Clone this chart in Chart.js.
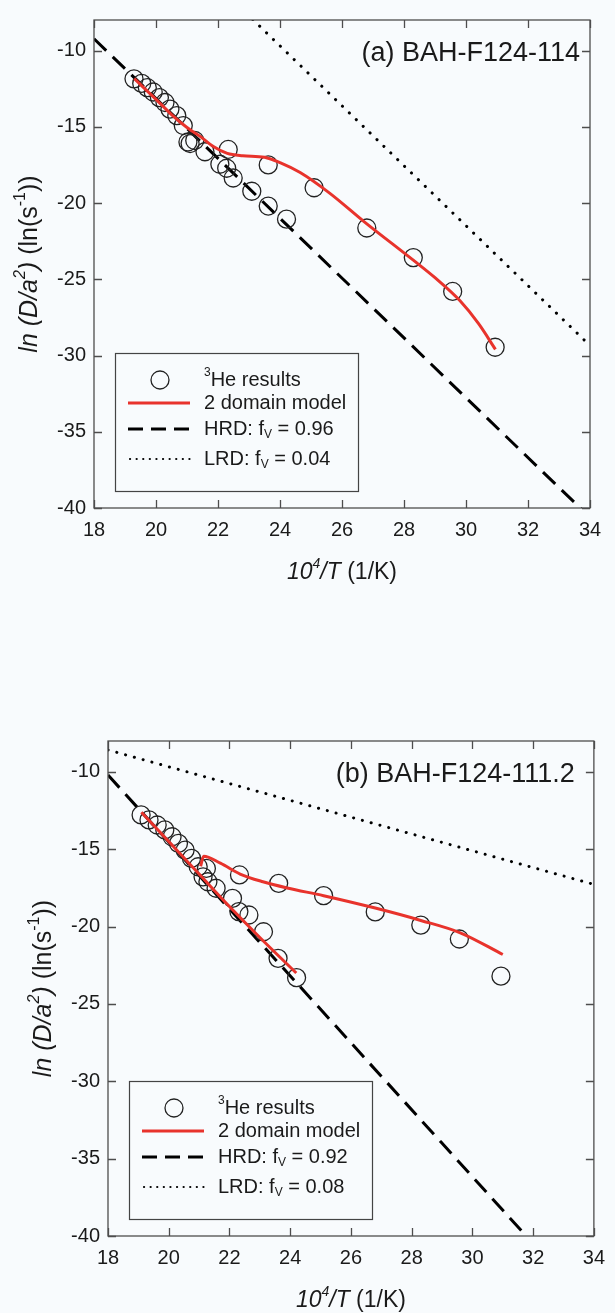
<!DOCTYPE html>
<html>
<head>
<meta charset="utf-8">
<script src="https://cdn.jsdelivr.net/npm/chart.js@4.4.1/dist/chart.umd.min.js"></script>
<style>
	body { margin: 0; background: #f8fbfd; }
	.panel { position: absolute; left: 0; width: 615px; }
</style>
</head>
<body>
<div class="panel" style="top:0;height:640px"><canvas id="chartA" width="615" height="640"></canvas></div>
<div class="panel" style="top:640px;height:673px"><canvas id="chartB" width="615" height="673"></canvas></div>
<script>
const xTicks = [18, 20, 22, 24, 26, 28, 30, 32, 34];
const yTicks = [-40, -35, -30, -25, -20, -15, -10];

// (a) BAH-F124-114
const heA_x = [19.29, 19.54, 19.72, 19.91, 20.11, 20.29, 20.45, 20.67, 20.88, 21.03, 21.1, 21.25, 21.58, 22.06, 22.28, 22.33, 22.49, 23.09, 23.62, 23.62, 24.21, 25.1, 26.8, 28.3, 29.57, 30.94];
const heA_y = [-11.86, -12.16, -12.44, -12.72, -13.09, -13.41, -13.84, -14.27, -14.92, -16.0, -16.1, -15.9, -16.64, -17.46, -17.72, -16.49, -18.36, -19.23, -17.5, -20.2, -21.06, -19.0, -21.64, -23.58, -25.8, -29.46];
const modelA_x = [19.3, 20.0, 20.5, 21.0, 21.4, 21.85, 22.3, 22.8, 23.5, 24.0, 24.65, 25.6, 26.7, 28.3, 29.0, 29.8, 30.4, 30.95];
const modelA_y = [-11.85, -13.2, -14.2, -15.05, -15.6, -16.3, -16.75, -16.9, -17.0, -17.35, -18.0, -19.35, -21.2, -23.75, -24.9, -26.4, -27.9, -29.6];
const hrdA_x = [18, 34];
const hrdA_y = [-9.23, -40.62];
const lrdA_x = [18, 34];
const lrdA_y = [2.1, -29.35];

// (b) BAH-F124-111.2
const heB_x = [19.09, 19.35, 19.62, 19.87, 20.11, 20.32, 20.54, 20.75, 20.97, 21.13, 21.24, 21.29, 21.56, 22.1, 22.31, 22.64, 23.12, 23.6, 24.21, 22.33, 23.62, 25.1, 26.8, 28.3, 29.57, 30.94];
const heB_y = [-12.78, -13.1, -13.43, -13.75, -14.19, -14.62, -15.05, -15.59, -16.13, -16.78, -16.24, -17.1, -17.52, -18.17, -19.03, -19.25, -20.33, -22.05, -23.3, -16.66, -17.2, -18.0, -19.05, -19.9, -20.8, -23.2];
const modelB1_x = [19.1, 20.0, 21.0, 22.0, 23.0, 24.2];
const modelB1_y = [-12.6, -14.5, -16.6, -18.7, -20.7, -23.0];
const modelB2_x = [21.05, 21.15, 21.7, 22.35, 23.1, 23.9, 25.1, 26.8, 28.3, 29.6, 31.0];
const modelB2_y = [-16.1, -15.45, -15.9, -16.6, -17.1, -17.5, -18.0, -18.8, -19.6, -20.4, -21.8];
const hrdB_x = [18, 34];
const hrdB_y = [-10.2, -44.82];
const lrdB_x = [18, 34];
const lrdB_y = [-8.58, -17.27];

const FONT = "'Liberation Sans', Arial, sans-serif";
const RED = '#e8332c';

const pts = (xs, ys) => xs.map((x, i) => ({ x: x, y: ys[i] }));

function font(p, size) {
	const s = p.sup || p.sub ? Math.round(size * 0.62) : size;
	return `${p.italic ? 'italic ' : ''}${s}px ${FONT}`;
}

function richWidth(ctx, parts, size) {
	let w = 0;
	parts.forEach((p) => {
		ctx.font = font(p, size);
		w += ctx.measureText(p.t).width;
	});
	return w;
}

function drawRich(ctx, parts, x, y, size, align) {
	const w = richWidth(ctx, parts, size);
	let cx = x;
	if (align === 'center') cx = x - w / 2;
	if (align === 'right') cx = x - w;
	ctx.textBaseline = 'middle';
	ctx.textAlign = 'left';
	parts.forEach((p) => {
		ctx.font = font(p, size);
		let dy = 0;
		if (p.sup) dy = -size * 0.38;
		if (p.sub) dy = size * 0.28;
		ctx.fillText(p.t, cx, y + dy);
		cx += ctx.measureText(p.t).width;
	});
}

const decorPlugin = {
	id: 'decor',
	afterDatasetsDraw(chart, args, opts) {
		const { ctx, chartArea: a, scales } = chart;
		ctx.save();
		// frame and inward ticks
		ctx.strokeStyle = '#4d4d4d';
		ctx.lineWidth = 1.3;
		ctx.strokeRect(a.left, a.top, a.right - a.left, a.bottom - a.top);
		ctx.beginPath();
		xTicks.forEach((v) => {
			const px = Math.round(scales.x.getPixelForValue(v)) + 0.5;
			ctx.moveTo(px, a.bottom); ctx.lineTo(px, a.bottom - 8);
			ctx.moveTo(px, a.top); ctx.lineTo(px, a.top + 8);
		});
		yTicks.forEach((v) => {
			const py = Math.round(scales.y.getPixelForValue(v)) + 0.5;
			ctx.moveTo(a.left, py); ctx.lineTo(a.left + 8, py);
			ctx.moveTo(a.right, py); ctx.lineTo(a.right - 8, py);
		});
		ctx.stroke();

		ctx.fillStyle = '#1a1a1a';
		// panel label
		drawRich(ctx, [{ t: opts.label }], a.right - opts.labelRight, a.top + 34, 27, 'right');

		// legend box
		const bx = a.left + 21, bw = 243, bh = 138, by = a.bottom - 17 - bh;
		ctx.fillStyle = '#f8fbfd';
		ctx.fillRect(bx, by, bw, bh);
		ctx.strokeStyle = '#444';
		ctx.lineWidth = 1.2;
		ctx.strokeRect(bx + 0.5, by + 0.5, bw, bh);
		const rows = [27, 50, 76, 106].map((r) => by + r);
		const symL = bx + 13, symR = bx + 75, textX = bx + 89;

		ctx.strokeStyle = '#222';
		ctx.lineWidth = 1.3;
		ctx.beginPath();
		ctx.arc(bx + 45, rows[0], 9, 0, Math.PI * 2);
		ctx.stroke();

		ctx.strokeStyle = RED;
		ctx.lineWidth = 3;
		ctx.beginPath();
		ctx.moveTo(symL, rows[1]); ctx.lineTo(symR, rows[1]);
		ctx.stroke();

		ctx.strokeStyle = '#000';
		ctx.setLineDash([15, 8]);
		ctx.beginPath();
		ctx.moveTo(symL, rows[2]); ctx.lineTo(symR, rows[2]);
		ctx.stroke();

		ctx.lineWidth = 2.2;
		ctx.lineCap = 'round';
		ctx.setLineDash([0.1, 6.5]);
		ctx.beginPath();
		ctx.moveTo(symL + 2, rows[3]); ctx.lineTo(symR, rows[3]);
		ctx.stroke();
		ctx.setLineDash([]);
		ctx.lineCap = 'butt';

		ctx.fillStyle = '#1a1a1a';
		drawRich(ctx, [{ t: '3', sup: true }, { t: 'He results' }], textX, rows[0], 20, 'left');
		drawRich(ctx, [{ t: '2 domain model' }], textX, rows[1], 20, 'left');
		drawRich(ctx, [{ t: 'HRD: f' }, { t: 'V', sub: true }, { t: ' = ' + opts.hrd }], textX, rows[2], 20, 'left');
		drawRich(ctx, [{ t: 'LRD: f' }, { t: 'V', sub: true }, { t: ' = ' + opts.lrd }], textX, rows[3], 20, 'left');

		// axis titles
		drawRich(ctx, [
			{ t: '10', italic: true }, { t: '4', italic: true, sup: true }, { t: '/T', italic: true }, { t: ' (1/K)' },
		], (a.left + a.right) / 2, a.bottom + 65, 23, 'center');

		ctx.translate(a.left - 64, (a.top + a.bottom) / 2);
		ctx.rotate(-Math.PI / 2);
		drawRich(ctx, [
			{ t: 'ln (D/a', italic: true }, { t: '2', italic: true, sup: true }, { t: ')', italic: true },
			{ t: ' (ln(s' }, { t: '-1', sup: true }, { t: '))' },
		], 0, 0, 25, 'center');
		ctx.restore();
	},
};

function makeChart(id, datasets, pad, yWidth, xHeight, decor) {
	return new Chart(document.getElementById(id), {
		type: 'scatter',
		data: { datasets: datasets },
		options: {
			responsive: false,
			animation: false,
			layout: { padding: pad },
			plugins: {
				legend: { display: false },
				tooltip: { enabled: false },
				decor: decor,
			},
			scales: {
				x: {
					type: 'linear', min: 18, max: 34,
					afterBuildTicks: (scale) => { scale.ticks = xTicks.map((v) => ({ value: v })); },
					afterFit: (scale) => { scale.height = xHeight; },
					grid: { display: false, drawTicks: false },
					border: { display: false },
					ticks: { padding: 10, color: '#1a1a1a', font: { family: FONT, size: 20 } },
				},
				y: {
					type: 'linear', min: -40, max: -8,
					afterBuildTicks: (scale) => { scale.ticks = yTicks.map((v) => ({ value: v })); },
					afterFit: (scale) => { scale.width = yWidth; },
					grid: { display: false, drawTicks: false },
					border: { display: false },
					ticks: { padding: 8, color: '#1a1a1a', font: { family: FONT, size: 20 } },
				},
			},
		},
		plugins: [decorPlugin],
	});
}

function lineSet(data, color, width, dash, order, cap) {
	return {
		data: data, showLine: true, pointRadius: 0, borderColor: color, borderWidth: width,
		borderDash: dash, borderCapStyle: cap || 'butt', order: order, cubicInterpolationMode: 'monotone',
	};
}

function heSet(data) {
	return {
		data: data, pointRadius: 9, pointBorderWidth: 1.3, pointBorderColor: '#222',
		pointBackgroundColor: 'rgba(0,0,0,0)', showLine: false, order: 2,
	};
}

makeChart('chartA', [
	lineSet(pts(hrdA_x, hrdA_y), '#000', 3, [17, 9], 4),
	lineSet(pts(lrdA_x, lrdA_y), '#000', 3, [0.1, 9.5], 4, 'round'),
	heSet(pts(heA_x, heA_y)),
	lineSet(pts(modelA_x, modelA_y), RED, 3, [], 1),
], { left: 0, top: 13, right: 25, bottom: 0 }, 94, 132,
{ label: '(a) BAH-F124-114', labelRight: 10, hrd: '0.96', lrd: '0.04' });

makeChart('chartB', [
	lineSet(pts(hrdB_x, hrdB_y), '#000', 3, [17, 9], 4),
	lineSet(pts(lrdB_x, lrdB_y), '#000', 3, [0.1, 9], 4, 'round'),
	heSet(pts(heB_x, heB_y)),
	lineSet(pts(modelB1_x, modelB1_y), RED, 3, [], 1),
	lineSet(pts(modelB2_x, modelB2_y), RED, 3, [], 1),
], { left: 0, top: 101, right: 11, bottom: 0 }, 108, 77,
{ label: '(b) BAH-F124-111.2', labelRight: 19, hrd: '0.92', lrd: '0.08' });
</script>
</body>
</html>
